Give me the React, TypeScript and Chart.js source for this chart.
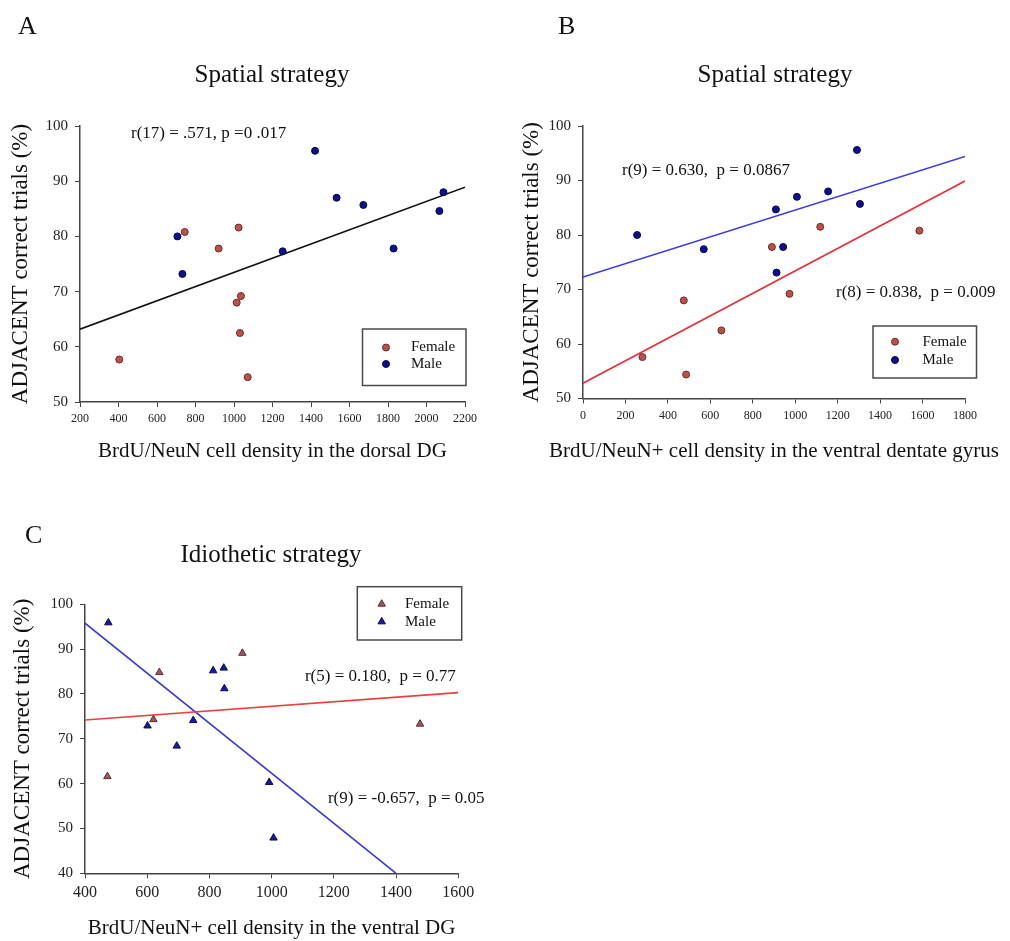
import React, { useEffect, useRef } from "react";
import { Chart, registerables } from "chart.js";
import { drawPoint } from "chart.js/helpers";

Chart.register(...registerables);

const FONT = "'Liberation Serif', 'Times New Roman', serif";

// ---------- Panel A ----------
const A_X_TICKS = [200, 400, 600, 800, 1000, 1200, 1400, 1600, 1800, 2000, 2200];
const A_Y_TICKS = [50, 60, 70, 80, 90, 100];
const A_FEMALE_X = [404, 744, 920, 1024, 1014, 1036, 1031, 1071];
const A_FEMALE_Y = [57.7, 80.8, 77.8, 81.6, 68.0, 69.2, 62.5, 54.5];
const A_MALE_X = [706, 732, 1253, 1421, 1533, 1672, 1829, 2067, 2088];
const A_MALE_Y = [80.0, 73.2, 77.3, 95.5, 87.0, 85.7, 77.8, 84.6, 88.0];
const A_FIT_X = [200, 2200];
const A_FIT_Y = [63.2, 88.9];
const A_NOTE = "r(17) = .571, p =0 .017";

// ---------- Panel B ----------
const B_X_TICKS = [0, 200, 400, 600, 800, 1000, 1200, 1400, 1600, 1800];
const B_Y_TICKS = [50, 60, 70, 80, 90, 100];
const B_FEMALE_X = [280, 475, 486, 652, 890, 973, 1118, 1585];
const B_FEMALE_Y = [57.6, 68.0, 54.4, 62.5, 77.8, 69.2, 81.5, 80.8];
const B_MALE_X = [255, 569, 909, 912, 943, 1008, 1155, 1291, 1305];
const B_MALE_Y = [80.0, 77.4, 84.7, 73.1, 77.8, 87.0, 88.0, 95.6, 85.7];
const B_MALE_FIT_X = [0, 1800];
const B_MALE_FIT_Y = [72.3, 94.4];
const B_FEMALE_FIT_X = [0, 1800];
const B_FEMALE_FIT_Y = [52.8, 89.9];
const B_NOTE_MALE = "r(9) = 0.630,  p = 0.0867";
const B_NOTE_FEMALE = "r(8) = 0.838,  p = 0.009";

// ---------- Panel C ----------
const C_X_TICKS = [400, 600, 800, 1000, 1200, 1400, 1600];
const C_Y_TICKS = [40, 50, 60, 70, 80, 90, 100];
const C_FEMALE_X = [472, 620, 639, 906, 1477];
const C_FEMALE_Y = [61.6, 74.3, 84.8, 89.1, 73.3];
const C_MALE_X = [475, 601, 695, 748, 812, 846, 848, 992, 1006];
const C_MALE_Y = [95.9, 72.9, 68.4, 74.1, 85.2, 85.8, 81.2, 60.3, 47.9];
const C_FEMALE_FIT_X = [400, 1600];
const C_FEMALE_FIT_Y = [74.2, 80.3];
const C_MALE_FIT_X = [400, 1400];
const C_MALE_FIT_Y = [95.8, 40];
const C_NOTE_FEMALE = "r(5) = 0.180,  p = 0.77";
const C_NOTE_MALE = "r(9) = -0.657,  p = 0.05";

const Y_TITLE = "ADJACENT correct trials (%)";

type Series = {
  label: string;
  xs: number[];
  ys: number[];
  fill: string;
  stroke: string;
  style: "circle" | "triangle";
};
type Fit = { xs: number[]; ys: number[]; color: string };
type Note = { text: string; x: number; y: number };
type Spec = {
  key: string;
  left: number;
  top: number;
  width: number;
  height: number;
  area: { left: number; top: number; right: number; bottom: number };
  padLeft: number;
  xTitlePad: number;
  xTitleFree: boolean;
  letter: { text: string; x: number; y: number };
  title: { text: string; x: number; y: number };
  xTitle: string;
  xTicks: number[];
  yTicks: number[];
  xTickSize: number;
  yTickSize: number;
  series: Series[];
  fits: Fit[];
  notes: Note[];
  legend: { box: [number, number, number, number]; markerX: number; textX: number; rows: number[] };
};

const FEMALE_DOT = { fill: "#b9524d", stroke: "#6e2a28" };
const MALE_DOT = { fill: "#10108a", stroke: "#06064d" };
const FEMALE_TRI = { fill: "#9a5860", stroke: "#5c2c33" };
const MALE_TRI = { fill: "#1c1c92", stroke: "#0a0a55" };

const PANELS: Spec[] = [
  {
    key: "A",
    left: 0,
    top: 0,
    width: 505,
    height: 470,
    area: { left: 80, top: 126, right: 465, bottom: 402 },
    padLeft: 7,
    xTitlePad: 6.4,
    xTitleFree: false,
    letter: { text: "A", x: 18, y: 34 },
    title: { text: "Spatial strategy", x: 272, y: 82 },
    xTitle: "BrdU/NeuN cell density in the dorsal DG",
    xTicks: A_X_TICKS,
    yTicks: A_Y_TICKS,
    xTickSize: 12,
    yTickSize: 15,
    series: [
      { label: "Female", xs: A_FEMALE_X, ys: A_FEMALE_Y, ...FEMALE_DOT, style: "circle" },
      { label: "Male", xs: A_MALE_X, ys: A_MALE_Y, ...MALE_DOT, style: "circle" },
    ],
    fits: [{ xs: A_FIT_X, ys: A_FIT_Y, color: "#111111" }],
    notes: [{ text: A_NOTE, x: 465, y: 98.55 }],
    legend: { box: [362.5, 329, 466, 385.5], markerX: 386, textX: 411, rows: [347.5, 364] },
  },
  {
    key: "B",
    left: 505,
    top: 0,
    width: 505,
    height: 470,
    area: { left: 78, top: 126, right: 460, bottom: 398.5 },
    padLeft: 13,
    xTitlePad: 6.4,
    xTitleFree: true,
    letter: { text: "B", x: 53, y: 34 },
    title: { text: "Spatial strategy", x: 270, y: 82 },
    xTitle: "BrdU/NeuN+ cell density in the ventral dentate gyrus",
    xTicks: B_X_TICKS,
    yTicks: B_Y_TICKS,
    xTickSize: 12,
    yTickSize: 15,
    series: [
      { label: "Female", xs: B_FEMALE_X, ys: B_FEMALE_Y, ...FEMALE_DOT, style: "circle" },
      { label: "Male", xs: B_MALE_X, ys: B_MALE_Y, ...MALE_DOT, style: "circle" },
    ],
    fits: [
      { xs: B_MALE_FIT_X, ys: B_MALE_FIT_Y, color: "#3a3ae4" },
      { xs: B_FEMALE_FIT_X, ys: B_FEMALE_FIT_Y, color: "#e2303c" },
    ],
    notes: [
      { text: B_NOTE_MALE, x: 184, y: 91.9 },
      { text: B_NOTE_FEMALE, x: 1192, y: 69.5 },
    ],
    legend: { box: [368, 326, 471.5, 378], markerX: 390, textX: 417.5, rows: [341.7, 360] },
  },
  {
    key: "C",
    left: 0,
    top: 470,
    width: 505,
    height: 471,
    area: { left: 85, top: 134.3, right: 458.3, bottom: 403.3 },
    padLeft: 9,
    xTitlePad: 0,
    xTitleFree: false,
    letter: { text: "C", x: 25, y: 73 },
    title: { text: "Idiothetic strategy", x: 271, y: 92 },
    xTitle: "BrdU/NeuN+ cell density in the ventral DG",
    xTicks: C_X_TICKS,
    yTicks: C_Y_TICKS,
    xTickSize: 16,
    yTickSize: 15,
    series: [
      { label: "Female", xs: C_FEMALE_X, ys: C_FEMALE_Y, ...FEMALE_TRI, style: "triangle" },
      { label: "Male", xs: C_MALE_X, ys: C_MALE_Y, ...MALE_TRI, style: "triangle" },
    ],
    fits: [
      { xs: C_FEMALE_FIT_X, ys: C_FEMALE_FIT_Y, color: "#e8403f" },
      { xs: C_MALE_FIT_X, ys: C_MALE_FIT_Y, color: "#3a3ac8" },
    ],
    notes: [
      { text: C_NOTE_FEMALE, x: 1107, y: 84.0 },
      { text: C_NOTE_MALE, x: 1181, y: 56.6 },
    ],
    legend: { box: [357.3, 116.7, 461.7, 170], markerX: 381.7, textX: 405, rows: [134, 151.7] },
  },
];

function makeDecor(spec: Spec) {
  return {
    id: "decor" + spec.key,
    afterDraw(chart: any) {
      const ctx: CanvasRenderingContext2D = chart.ctx;
      const xs = chart.scales.x;
      const ys = chart.scales.y;
      ctx.save();
      ctx.fillStyle = "#111111";
      ctx.textBaseline = "alphabetic";
      ctx.textAlign = "left";
      ctx.font = `26px ${FONT}`;
      ctx.fillText(spec.letter.text, spec.letter.x, spec.letter.y);
      ctx.textAlign = "center";
      ctx.font = `25px ${FONT}`;
      ctx.fillText(spec.title.text, spec.title.x, spec.title.y);

      if (spec.xTitleFree) {
        // long axis title that runs wider than the plot area (not squeezed)
        ctx.textBaseline = "middle";
        ctx.font = `21px ${FONT}`;
        const cx = (chart.chartArea.left + chart.chartArea.right) / 2;
        ctx.fillText(spec.xTitle, cx, spec.height - 10.5 - spec.xTitlePad - 2.1);
      }

      ctx.textAlign = "left";
      ctx.textBaseline = "middle";
      ctx.font = `17px ${FONT}`;
      for (const n of spec.notes) {
        ctx.fillText(n.text, xs.getPixelForValue(n.x), ys.getPixelForValue(n.y));
      }

      // legend
      const [l, t, r, b] = spec.legend.box;
      ctx.strokeStyle = "#4a4a4a";
      ctx.lineWidth = 1.5;
      ctx.strokeRect(l, t, r - l, b - t);
      ctx.font = `15px ${FONT}`;
      spec.series.forEach((s, i) => {
        const y = spec.legend.rows[i];
        ctx.fillStyle = s.fill;
        ctx.strokeStyle = s.stroke;
        ctx.lineWidth = 1;
        drawPoint(ctx, { pointStyle: s.style, radius: s.style === "triangle" ? 4.3 : 3.5, borderWidth: 1, rotation: 0 } as any, spec.legend.markerX, y);
        ctx.fillStyle = "#111111";
        ctx.fillText(s.label, spec.legend.textX, y);
      });
      ctx.restore();
    },
  };
}

function Panel({ spec }: { spec: Spec }) {
  const ref = useRef<HTMLCanvasElement | null>(null);
  useEffect(() => {
    if (!ref.current) return;
    const { area } = spec;
    const yWidth = area.left - spec.padLeft;
    const xHeight = spec.height - area.bottom;
    const datasets: any[] = [];
    spec.series.forEach((s) => {
      const r = s.style === "triangle" ? 4.3 : 3.5;
      datasets.push({
        type: "scatter",
        label: s.label,
        data: s.xs.map((x, i) => ({ x, y: s.ys[i] })),
        backgroundColor: s.fill,
        borderColor: s.stroke,
        borderWidth: 1,
        pointStyle: s.style,
        pointRadius: r,
        pointHoverRadius: r,
      });
    });
    spec.fits.forEach((f, i) => {
      datasets.push({
        type: "scatter",
        label: "fit" + i,
        data: f.xs.map((x, j) => ({ x, y: f.ys[j] })),
        showLine: true,
        borderColor: f.color,
        borderWidth: 1.6,
        pointRadius: 0,
        pointHoverRadius: 0,
        fill: false,
      });
    });
    const tickFont = (size: number) => ({ family: FONT, size });
    const chart = new Chart(ref.current, {
      type: "scatter",
      data: { datasets },
      options: {
        animation: false,
        responsive: false,
        maintainAspectRatio: false,
        events: [],
        layout: {
          padding: { left: spec.padLeft, top: area.top, right: spec.width - area.right, bottom: 0 },
        },
        plugins: {
          legend: { display: false },
          tooltip: { enabled: false },
          title: { display: false },
        },
        scales: {
          x: {
            type: "linear",
            position: "bottom",
            min: spec.xTicks[0],
            max: spec.xTicks[spec.xTicks.length - 1],
            afterBuildTicks: (s: any) => {
              s.ticks = spec.xTicks.map((v) => ({ value: v }));
            },
            afterFit: (s: any) => {
              s.height = xHeight;
            },
            ticks: {
              font: tickFont(spec.xTickSize),
              color: "#222222",
              padding: 5,
              maxRotation: 0,
              autoSkip: false,
              callback: (v: any) => String(v),
            },
            grid: { drawOnChartArea: false, drawTicks: true, tickLength: 5, color: "#444444", lineWidth: 1 },
            border: { display: true, color: "#444444", width: 1.5 },
            title: {
              display: !spec.xTitleFree,
              text: spec.xTitle,
              font: { family: FONT, size: 21 },
              color: "#111111",
              padding: { top: 0, bottom: spec.xTitlePad },
            },
          },
          y: {
            type: "linear",
            position: "left",
            min: spec.yTicks[0],
            max: spec.yTicks[spec.yTicks.length - 1],
            afterBuildTicks: (s: any) => {
              s.ticks = spec.yTicks.map((v) => ({ value: v }));
            },
            afterFit: (s: any) => {
              s.width = yWidth;
            },
            ticks: {
              font: tickFont(spec.yTickSize),
              color: "#222222",
              padding: 7,
              autoSkip: false,
              callback: (v: any) => String(v),
            },
            grid: { drawOnChartArea: false, drawTicks: true, tickLength: 5, color: "#444444", lineWidth: 1 },
            border: { display: true, color: "#444444", width: 1.5 },
            title: {
              display: true,
              text: Y_TITLE,
              font: { family: FONT, size: 23 },
              color: "#111111",
              padding: { top: 0, bottom: 0 },
            },
          },
        },
      } as any,
      plugins: [makeDecor(spec)],
    });
    return () => chart.destroy();
  }, [spec]);
  return (
    <canvas
      ref={ref}
      width={spec.width}
      height={spec.height}
      style={{ position: "absolute", left: spec.left, top: spec.top, width: spec.width, height: spec.height }}
    />
  );
}

export default function App() {
  return (
    <div
      style={{
        position: "absolute",
        left: 0,
        top: 0,
        width: 1010,
        height: 941,
        background: "#ffffff",
        overflow: "hidden",
      }}
    >
      {PANELS.map((p) => (
        <Panel key={p.key} spec={p} />
      ))}
    </div>
  );
}
